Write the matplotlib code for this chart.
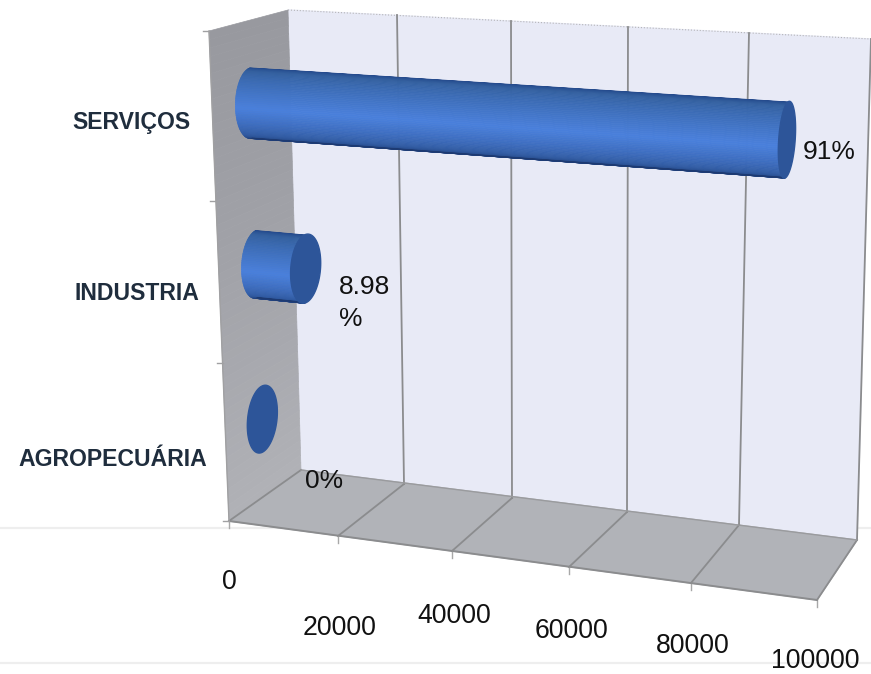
import numpy as np
import matplotlib
matplotlib.use('Agg')
import matplotlib.pyplot as plt
from matplotlib.collections import PolyCollection
from matplotlib.colors import LinearSegmentedColormap

plt.rcParams['font.family'] = ['Liberation Sans', 'DejaVu Sans']

# data
categories = ['AGROPECUÁRIA', 'INDUSTRIA', 'SERVIÇOS']
values = [0, 9000, 90000]
value_labels = ['0%', '8.98\n%', '91%']
x_ticks = [0, 20000, 40000, 60000, 80000, 100000]

# where the box corners sit on the page, per x tick (perspective view)
front_floor_x = [229, 338, 452, 569, 691, 817]
front_floor_y = [521, 536, 551, 567, 583, 600]
back_floor_x = [301, 404, 512, 627, 739, 857]
back_floor_y = [470, 484, 498, 512, 525, 540]
back_top_x = [288, 397, 511, 628, 749, 871]
back_top_y = [10, 15, 21, 27, 33, 39]
front_top_x = [209, 321, 445, 570, 700, 837]
front_top_y = [31, 38, 46, 54, 62, 70]
# rows get a bit taller towards the top of the box
height_in = [0, 1 / 3, 2 / 3, 1]
height_out = [0, 0.322, 0.653, 1]

grid_color = '#8b8c8e'
bar_radius_depth = 0.205
bar_radius_height = 0.071


def project(v, d, h):
    # v = axis value, d = depth 0 front..1 back, h = height 0..1
    h = np.interp(h, height_in, height_out)
    fx = np.interp(v, x_ticks, front_floor_x)
    fy = np.interp(v, x_ticks, front_floor_y)
    bx = np.interp(v, x_ticks, back_floor_x)
    by = np.interp(v, x_ticks, back_floor_y)
    tx = np.interp(v, x_ticks, back_top_x)
    ty = np.interp(v, x_ticks, back_top_y)
    ux = np.interp(v, x_ticks, front_top_x)
    uy = np.interp(v, x_ticks, front_top_y)
    low_x, low_y = fx + d * (bx - fx), fy + d * (by - fy)
    up_x, up_y = ux + d * (tx - ux), uy + d * (ty - uy)
    return low_x + h * (up_x - low_x), low_y + h * (up_y - low_y)


fig = plt.figure(figsize=(8.71, 6.74), dpi=100)
ax = fig.add_axes([0, 0, 1, 1])
ax.set_xlim(0, 871)
ax.set_ylim(674, 0)
ax.axis('off')

# faint lines of the slide behind the chart
ax.plot([0, 871], [528, 528], color='#eeeeee', lw=1.6, zorder=0)
ax.plot([0, 871], [663, 663], color='#eeeeee', lw=1.6, zorder=0)

# back wall
corners = [project(0, 1, 0), project(100000, 1, 0), project(100000, 1, 1), project(0, 1, 1)]
ax.fill(*zip(*corners), color='#e8eaf6', zorder=1)
ax.plot(*zip(corners[3], corners[2]), color='#b5b5b8', lw=0.8, ls=':', zorder=2)

# side wall, gets lighter to the floor
wall_cmap = LinearSegmentedColormap.from_list('wall', ['#98999f', '#a2a3a9', '#b0b1b6'])
bands = np.linspace(1, 0, 61)
for i in range(60):
    poly = [project(0, 0, bands[i]), project(0, 1, bands[i]),
            project(0, 1, bands[i + 1]), project(0, 0, bands[i + 1])]
    ax.fill(*zip(*poly), color=wall_cmap(i / 59), lw=0.5, zorder=2)

# floor
floor = [project(0, 0, 0), project(100000, 0, 0), project(100000, 1, 0), project(0, 1, 0)]
ax.fill(*zip(*floor), color='#b1b3b8', zorder=2)

# grid lines and box edges
for t in x_ticks[1:]:
    ax.plot(*zip(project(t, 1, 0), project(t, 1, 1)), color=grid_color, lw=1.3, zorder=3)
for t in x_ticks:
    ax.plot(*zip(project(t, 0, 0), project(t, 1, 0)), color=grid_color, lw=1.3, zorder=3)
    x0, y0 = project(t, 0, 0)
    ax.plot([x0, x0], [y0, y0 + 7], color='#a8a8a8', lw=1, zorder=3)
ax.plot(*zip(project(0, 0, 0), project(100000, 0, 0)), color=grid_color, lw=1.4, zorder=3)
ax.plot(*zip(project(0, 1, 0), project(100000, 1, 0)), color='#9a9b9e', lw=1, zorder=3)
ax.plot(*zip(project(0, 0, 0), project(0, 0, 1)), color='#a0a0a2', lw=1, zorder=3)
for k in range(4):
    x0, y0 = project(0, 0, k / 3)
    ax.plot([x0 - 6, x0], [y0, y0], color='#a0a0a2', lw=1, zorder=3)

# cylinders
body_cmap = LinearSegmentedColormap.from_list(
    'body', [(0, '#254a8c'), (0.1, '#33609f'), (0.5, '#4a80dc'), (0.82, '#30599f'), (1, '#1d3a72')])
n_rows = len(categories)
for i, v in enumerate(values):
    h_mid = (i + 0.5) / n_rows
    if v > 0:
        angles = np.linspace(np.pi / 2, 3 * np.pi / 2, 61)
        polys, colors = [], []
        for j in range(60):
            a0, a1 = angles[j], angles[j + 1]
            d0 = 0.5 + bar_radius_depth * np.cos(a0)
            d1 = 0.5 + bar_radius_depth * np.cos(a1)
            h0 = h_mid + bar_radius_height * np.sin(a0)
            h1 = h_mid + bar_radius_height * np.sin(a1)
            polys.append([project(0, d0, h0), project(v, d0, h0), project(v, d1, h1), project(0, d1, h1)])
            colors.append(body_cmap(j / 59))
        ax.add_collection(PolyCollection(polys, facecolors=colors, edgecolors=colors, lw=0.5, zorder=5))
    a = np.linspace(0, 2 * np.pi, 100)
    cap = project(v, 0.5 + bar_radius_depth * np.cos(a), h_mid + bar_radius_height * np.sin(a))
    ax.fill(cap[0], cap[1], color='#2d5599', zorder=6)

# text
cat_x = [18, 74, 72]
cat_y = [460, 294, 122]
for name, x, y in zip(categories, cat_x, cat_y):
    ax.text(x, y, name, fontsize=16.6, fontweight='bold', color='#1f2d3d', ha='left', va='center', zorder=7)

label_x = [305, 339, 803]
label_y = [481, 303, 152]
for lab, x, y in zip(value_labels, label_x, label_y):
    ax.text(x, y, lab, fontsize=19, color='#111111', ha='left', va='center', linespacing=1.4, zorder=7)

tick_x = [229, 340, 454, 571, 693, 815]
tick_y = [582, 628, 616, 631, 646, 661]
for t, x, y in zip(x_ticks, tick_x, tick_y):
    ax.text(x, y, str(t), fontsize=19.2, color='#111111', ha='center', va='center', zorder=7)

fig.savefig('out.png', dpi=100)
